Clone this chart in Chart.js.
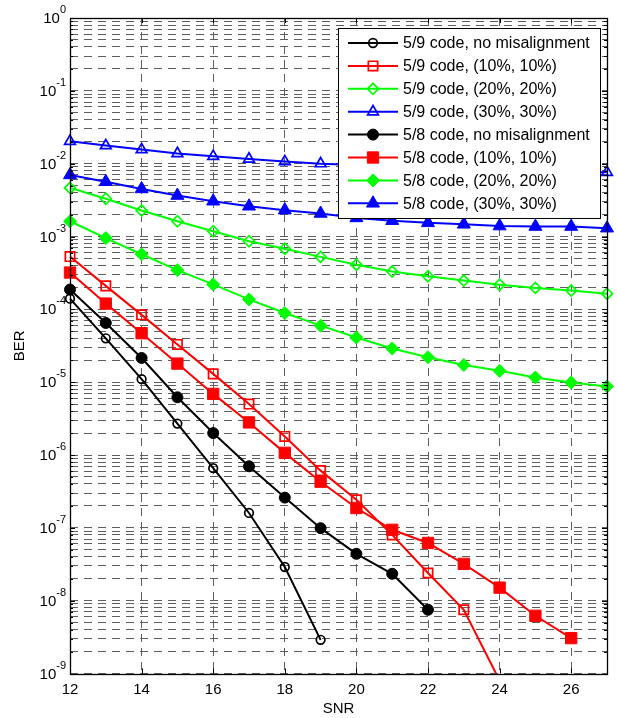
<!DOCTYPE html>
<html>
<head>
<meta charset="utf-8">
<script src="https://cdn.jsdelivr.net/npm/chart.js@4/dist/chart.umd.min.js"></script>
<style>
  html, body { margin: 0; padding: 0; background: #fff; }
</style>
</head>
<body>
<canvas id="myChart" width="617" height="718"></canvas>
<script>
// SNR axis values and tick labels
const snr = [12, 13, 14, 15, 16, 17, 18, 19, 20, 21, 22, 23, 24, 25, 26, 27];
const snrTicks = [12, 14, 16, 18, 20, 22, 24, 26];
const berDecades = [-9, -8, -7, -6, -5, -4, -3, -2, -1, 0];

// BER values (one entry per SNR, starting at 12)
const code59None = [1.4e-4, 4.0e-5, 1.1e-5, 2.7e-6, 6.6e-7, 1.6e-7, 2.9e-8, 2.9e-9];
const code59Ten = [5.3e-4, 2.1e-4, 8.4e-5, 3.3e-5, 1.3e-5, 5.0e-6, 1.8e-6, 6.1e-7, 2.43e-7, 8.0e-8, 2.4e-8, 7.5e-9, 8e-10];
const code59Twenty = [4.65e-3, 3.3e-3, 2.27e-3, 1.62e-3, 1.18e-3, 8.6e-4, 6.8e-4, 5.25e-4, 4.1e-4, 3.3e-4, 2.84e-4, 2.48e-4, 2.18e-4, 1.97e-4, 1.81e-4, 1.64e-4];
const code59Thirty = [2.03e-2, 1.77e-2, 1.56e-2, 1.38e-2, 1.26e-2, 1.16e-2, 1.07e-2, 1.0e-2, 9.6e-3, 9.2e-3, 8.9e-3, 8.6e-3, 8.3e-3, 8.0e-3, 7.8e-3, 7.6e-3];
const code58None = [1.87e-4, 6.5e-5, 2.15e-5, 6.2e-6, 2.0e-6, 7.0e-7, 2.6e-7, 9.9e-8, 4.4e-8, 2.34e-8, 7.5e-9];
const code58Ten = [3.2e-4, 1.2e-4, 4.7e-5, 1.8e-5, 6.9e-6, 2.8e-6, 1.07e-6, 4.3e-7, 1.87e-7, 9.4e-8, 6.2e-8, 3.2e-8, 1.51e-8, 6.2e-9, 3.06e-9];
const code58Twenty = [1.62e-3, 9.5e-4, 5.7e-4, 3.45e-4, 2.2e-4, 1.37e-4, 8.9e-5, 5.97e-5, 4.1e-5, 2.9e-5, 2.2e-5, 1.72e-5, 1.43e-5, 1.16e-5, 9.9e-6, 8.75e-6];
const code58Thirty = [7.0e-3, 5.65e-3, 4.5e-3, 3.65e-3, 3.05e-3, 2.6e-3, 2.3e-3, 2.07e-3, 1.8e-3, 1.65e-3, 1.54e-3, 1.47e-3, 1.39e-3, 1.37e-3, 1.37e-3, 1.3e-3];

const FONT = "'Liberation Sans', Arial, sans-serif";
Chart.defaults.font.family = FONT;
Chart.defaults.color = '#000';

function pts(values) {
  return values.map((v, i) => ({ x: snr[i], y: v }));
}

function series(label, values, color, style, radius, filled) {
  return {
    label: label,
    data: pts(values),
    borderColor: color,
    borderWidth: 2,
    fill: false,
    tension: 0,
    // markers below the axis are hidden, like matlab does
    clip: { left: 12, top: 12, right: 12, bottom: 0 },
    pointStyle: style,
    pointRadius: radius,
    pointBorderWidth: filled ? 1 : 1.7,
    pointBorderColor: color,
    pointBackgroundColor: filled ? color : 'rgba(0,0,0,0)',
    pointHoverRadius: radius
  };
}

const datasets = [
  series('5/9 code, no misalignment', code59None, '#000000', 'circle', 4.3, false),
  series('5/9 code, (10%, 10%)', code59Ten, '#ff0000', 'rect', 6.6, false),
  series('5/9 code, (20%, 20%)', code59Twenty, '#00ff00', 'rectRot', 5.5, false),
  series('5/9 code, (30%, 30%)', code59Thirty, '#0000ff', 'triangle', 6.2, false),
  series('5/8 code, no misalignment', code58None, '#000000', 'circle', 5.5, true),
  series('5/8 code, (10%, 10%)', code58Ten, '#ff0000', 'rect', 8, true),
  series('5/8 code, (20%, 20%)', code58Twenty, '#00ff00', 'rectRot', 6.5, true),
  series('5/8 code, (30%, 30%)', code58Thirty, '#0000ff', 'triangle', 7.5, true)
];

// log ticks: decades plus 2..9 minor values
const berTicks = [];
berDecades.forEach(e => {
  berTicks.push(Math.pow(10, e));
  if (e < 0) for (let m = 2; m <= 9; m++) berTicks.push(m * Math.pow(10, e));
});

function isDecade(v) {
  const l = Math.log10(v);
  return Math.abs(l - Math.round(l)) < 1e-6;
}

const matlabAxes = {
  id: 'matlabAxes',
  afterDatasetsDraw(chart) {
    const ctx = chart.ctx;
    const a = chart.chartArea;
    const xs = chart.scales.x, ys = chart.scales.y;
    ctx.save();
    ctx.strokeStyle = '#000';
    ctx.lineWidth = 1;
    ctx.beginPath();
    // inward ticks on y axis, both sides
    berTicks.forEach(v => {
      const y = Math.round(ys.getPixelForValue(v)) + 0.5;
      const len = isDecade(v) ? 5 : 3;
      ctx.moveTo(a.left, y); ctx.lineTo(a.left + len, y);
      ctx.moveTo(a.right, y); ctx.lineTo(a.right - len, y);
    });
    snrTicks.forEach(v => {
      const x = Math.round(xs.getPixelForValue(v)) + 0.5;
      ctx.moveTo(x, a.bottom); ctx.lineTo(x, a.bottom - 5);
      ctx.moveTo(x, a.top); ctx.lineTo(x, a.top + 5);
    });
    ctx.stroke();
    ctx.lineWidth = 1.3;
    ctx.strokeRect(Math.round(a.left) + 0.5, Math.round(a.top) + 0.5,
      Math.round(a.right - a.left), Math.round(a.bottom - a.top));

    // y tick labels 10^n
    ctx.fillStyle = '#000';
    ctx.textBaseline = 'middle';
    ctx.textAlign = 'right';
    berDecades.forEach(e => {
      const y = ys.getPixelForValue(Math.pow(10, e));
      const exp = String(e);
      ctx.font = '11px ' + FONT;
      const ew = ctx.measureText(exp).width;
      ctx.fillText(exp, 66, y - 8);
      ctx.font = '15px ' + FONT;
      ctx.fillText('10', 66 - ew, y + 1);
    });
    ctx.restore();
  },
  afterDraw(chart) {
    const ctx = chart.ctx;
    const box = { left: 338, top: 28, width: 262, height: 190 };
    ctx.save();
    ctx.fillStyle = '#fff';
    ctx.fillRect(box.left, box.top, box.width, box.height);
    ctx.strokeStyle = '#000';
    ctx.lineWidth = 1;
    ctx.strokeRect(box.left + 0.5, box.top + 0.5, box.width, box.height);
    const rowH = 22.9;
    chart.data.datasets.forEach((ds, i) => {
      const y = box.top + 15 + i * rowH;
      ctx.strokeStyle = ds.borderColor;
      ctx.lineWidth = ds.borderWidth;
      ctx.beginPath();
      ctx.moveTo(348, y); ctx.lineTo(398, y);
      ctx.stroke();
      ctx.fillStyle = ds.pointBackgroundColor;
      ctx.strokeStyle = ds.pointBorderColor;
      ctx.lineWidth = ds.pointBorderWidth;
      Chart.helpers.drawPoint(ctx, {
        pointStyle: ds.pointStyle, radius: ds.pointRadius, rotation: 0,
        borderWidth: ds.pointBorderWidth
      }, 373, y);
      ctx.fillStyle = '#000';
      ctx.font = '16px ' + FONT;
      ctx.textAlign = 'left';
      ctx.textBaseline = 'middle';
      ctx.fillText(ds.label, 403, y + 1);
    });
    ctx.restore();
  }
};

const ctx = document.getElementById('myChart').getContext('2d');
new Chart(ctx, {
  type: 'line',
  data: { datasets: datasets },
  options: {
    responsive: false,
    animation: false,
    layout: { padding: { top: 18, right: 10, left: 0, bottom: 0 } },
    plugins: {
      legend: { display: false },
      tooltip: { enabled: false }
    },
    scales: {
      x: {
        type: 'linear',
        min: 12,
        max: 27,
        afterBuildTicks: s => { s.ticks = snrTicks.map(v => ({ value: v })); },
        afterFit: s => { s.height = 44.5; },
        grid: { color: '#5e5e5e', lineWidth: 1, drawTicks: false },
        border: { display: false, dash: [8, 6] },
        ticks: { font: { size: 15 }, padding: 7, maxRotation: 0, autoSkip: false },
        title: { display: true, text: 'SNR', font: { size: 15 }, padding: { top: 0, bottom: 0 } }
      },
      y: {
        type: 'logarithmic',
        min: 1e-9,
        max: 1,
        afterBuildTicks: s => { s.ticks = berTicks.map(v => ({ value: v })); },
        afterFit: s => { s.width = 70; },
        grid: { color: '#5e5e5e', lineWidth: 1, drawTicks: false },
        border: { display: false, dash: [8, 6] },
        ticks: { display: false },
        title: { display: true, text: 'BER', font: { size: 15 }, padding: { top: 11, bottom: 0 } }
      }
    }
  },
  plugins: [matlabAxes]
});
</script>
</body>
</html>
